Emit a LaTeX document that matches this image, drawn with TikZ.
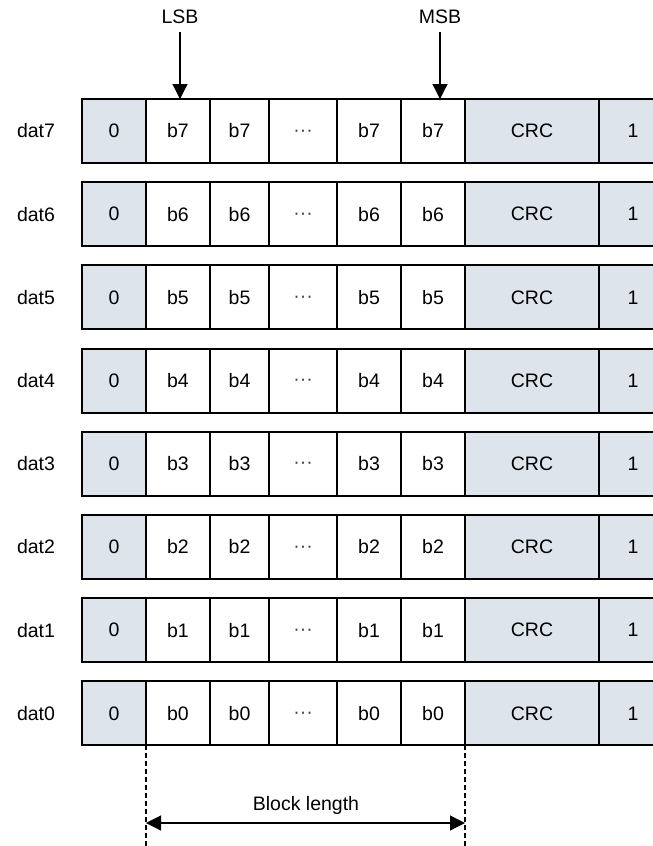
\documentclass[tikz,border=0pt]{standalone}
\usepackage{fontspec}
\setmainfont{Liberation Sans}
\usetikzlibrary{arrows.meta}
\definecolor{cellfill}{RGB}{221,228,236}
\begin{document}
\begin{tikzpicture}[x=1pt,y=-1pt,
  font=\fontsize{19.5}{23}\selectfont,
  cell/.style={draw, line width=2pt, minimum height=64pt, inner sep=0pt,
               outer sep=0pt, anchor=north west},
  gcell/.style={cell, fill=cellfill},
  wcell/.style={cell, fill=white},
  pointer/.style={line width=1.2pt, -{Triangle[width=15pt,length=15pt]}},
  span/.style={line width=1.2pt, {Triangle[width=15pt,length=15pt]}-{Triangle[width=15pt,length=15pt]}},
  guide/.style={line width=1.2pt, dash pattern=on 5pt off 3pt},
  lbl/.style={inner sep=8pt}]
\useasboundingbox (0,0) rectangle (653,846);

\foreach \r in {7,...,0} {
  \pgfmathsetmacro\ty{99+83.2*(7-\r)}
  \node[gcell, minimum width=64pt] (z\r) at (82,\ty) {0};
  \node[wcell, minimum width=64pt] (a\r) at (z\r.north east) {b\r};
  \node[wcell, minimum width=59pt] (b\r) at (a\r.north east) {b\r};
  \node[wcell, minimum width=68pt] (d\r) at (b\r.north east)
    {\smash{\raisebox{-5pt}{\color{black!75}\textperiodcentered\textperiodcentered\textperiodcentered}}};
  \node[wcell, minimum width=64pt] (e\r) at (d\r.north east) {b\r};
  \node[wcell, minimum width=64pt] (f\r) at (e\r.north east) {b\r};
  \node[gcell, minimum width=134pt] (c\r) at (f\r.north east) {CRC};
  \node[gcell, minimum width=68pt] (o\r) at (c\r.north east) {1};
  \node (lab\r) at (36,\ty+32) {dat\r};
}

\node[lbl] (lsb) at (180,17) {LSB};
\node[lbl] (msb) at (440,17) {MSB};
\draw[pointer] (lsb.south) -- (lsb.south |- a7.north);
\draw[pointer] (msb.south) -- (msb.south |- f7.north);

\coordinate (gl) at (a0.south west |- 0,846);
\coordinate (gr) at (f0.south east |- 0,846);
\draw[guide] (a0.south west) -- (gl);
\draw[guide] (f0.south east) -- (gr);

\coordinate (al) at (a0.south west |- 0,823);
\coordinate (ar) at (f0.south east |- 0,823);
\draw[span] (al) -- (ar);
\node (blk) at (306,805) {Block length};
\end{tikzpicture}
\end{document}
